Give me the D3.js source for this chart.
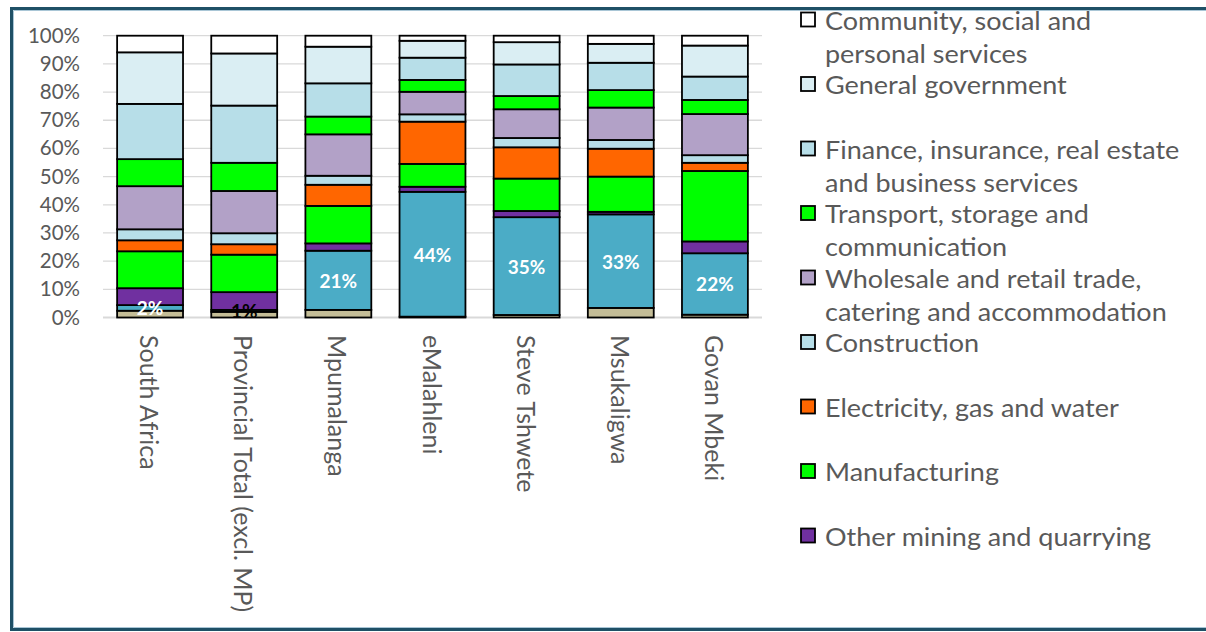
<!DOCTYPE html>
<html><head><meta charset="utf-8">
<script src="https://cdn.jsdelivr.net/npm/d3@7"></script>
<style>
html,body{margin:0;padding:0;background:#fff;}
svg{display:block;}
text{font-family:Lato,"Open Sans",sans-serif;}
</style></head>
<body>
<svg id="chart" width="1206" height="632"></svg>
<script>
const categories = ["South Africa","Provincial Total (excl. MP)","Mpumalanga","eMalahleni","Steve Tshwete","Msukaligwa","Govan Mbeki"];
const seriesNames = ["Agriculture","Coal mining","Other mining and quarrying","Manufacturing","Electricity, gas and water","Construction","Wholesale and retail trade, catering and accommodation","Transport, storage and communication","Finance, insurance, real estate and business services","General government","Community, social and personal services"];
const agriculture   = [2.4, 2.0, 2.7, 0.3, 0.9, 3.4, 1.0];
const coalMining    = [2.0, 0.7, 21.0, 44.3, 34.7, 33.2, 21.8];
const otherMining   = [6.0, 6.3, 2.6, 1.8, 2.2, 0.9, 4.2];
const manufacturing = [13.1, 13.3, 13.3, 8.1, 11.5, 12.5, 25.0];
const electricity   = [3.9, 3.7, 7.5, 15.0, 11.1, 9.9, 2.9];
const construction  = [3.9, 3.9, 3.2, 2.6, 3.3, 3.1, 2.7];
const wholesale     = [15.3, 15.0, 14.7, 8.0, 10.2, 11.5, 14.6];
const transport     = [9.6, 10.0, 6.3, 4.2, 4.7, 6.2, 5.0];
const finance       = [19.6, 20.3, 11.8, 7.9, 11.2, 9.7, 8.3];
const government    = [18.3, 18.5, 13.0, 6.0, 7.9, 6.7, 11.0];
const community     = [5.9, 6.3, 3.9, 1.8, 2.3, 2.9, 3.5];
const seriesValues = [agriculture, coalMining, otherMining, manufacturing, electricity, construction, wholesale, transport, finance, government, community];
const seriesColors = ["#C4BD97","#4BACC6","#7030A0","#00FF00","#FF6600","#B7DEE8","#B2A1C7","#00FF00","#B7DEE8","#DAEEF3","#FFFFFF"];
const labelColors = ["#FFFFFF","#000000","#FFFFFF","#FFFFFF","#FFFFFF","#FFFFFF","#FFFFFF"];
const yTicks = [0,0.1,0.2,0.3,0.4,0.5,0.6,0.7,0.8,0.9,1.0];
const legendSeries = [10,9,8,7,6,5,4,3,2];
const legendLines = [["Community, social and","personal services"],["General government"],["Finance, insurance, real estate","and business services"],["Transport, storage and","communication"],["Wholesale and retail trade,","catering and accommodation"],["Construction"],["Electricity, gas and water"],["Manufacturing"],["Other mining and quarrying"]];

const svg = d3.select("#chart");
// frame
svg.append("path").attr("d","M1206,8.5 H11.5 V629.5 H1206").attr("fill","none").attr("stroke","#1F5066").attr("stroke-width",3);
svg.append("path").attr("d","M1206,10.5 H13.5 V627.5 H1206").attr("fill","none").attr("stroke","#A9C6D6").attr("stroke-width",1);

const x = d3.scaleBand().domain(categories).range([103, 762]).paddingInner(0.3).paddingOuter(0.15);
const y = d3.scaleLinear().domain([0,1]).range([317.5, 35.7]);

// gridlines
svg.append("g").selectAll("line").data(yTicks).join("line")
  .attr("x1",103).attr("x2",762).attr("y1",d=>y(d)).attr("y2",d=>y(d))
  .attr("stroke","#D9D9D9").attr("stroke-width",d=>d===0?2:1.3);

// y axis
const yAxis = d3.axisLeft(y).tickValues(yTicks).tickFormat(d3.format(".0%")).tickSize(0).tickPadding(0);
const ya = svg.append("g").attr("transform","translate(80,0)").call(yAxis);
ya.select(".domain").remove();
ya.selectAll("text").attr("font-size",20.5).attr("fill","#595959").style("font-family","Lato");

// stacked data
const rows = categories.map((c,i)=>{ const o={cat:c}; seriesNames.forEach((s,j)=>o[s]=seriesValues[j][i]/100); return o; });
const stacked = d3.stack().keys(seriesNames)(rows);

const gBars = svg.append("g");
stacked.forEach((layer,j)=>{
  gBars.append("g").attr("fill",seriesColors[j]).selectAll("rect").data(layer).join("rect")
    .attr("x",d=>x(d.data.cat)).attr("width",x.bandwidth())
    .attr("y",d=>y(d[1])).attr("height",d=>y(d[0])-y(d[1]))
    .attr("stroke","#000").attr("stroke-width",1.8);
});

// labels on coal mining
const coal = stacked[1];
svg.append("g").selectAll("text").data(coal).join("text")
  .attr("x",d=>x(d.data.cat)+x.bandwidth()/2)
  .attr("y",d=>y((d[0]+d[1])/2))
  .attr("text-anchor","middle").attr("dominant-baseline","central")
  .attr("font-size",19).attr("font-weight","bold")
  .attr("fill",(d,i)=>labelColors[i])
  .text(d=>d3.format(".0%")(d[1]-d[0]));

// x axis labels rotated
const xAxis = d3.axisBottom(x).tickSize(0).tickPadding(0);
const xa = svg.append("g").attr("transform","translate(0,335)").call(xAxis);
xa.select(".domain").remove();
xa.selectAll("text").attr("font-size",25).attr("fill","#595959").style("font-family","Lato")
  .attr("transform","rotate(90)").attr("text-anchor","start").attr("dominant-baseline","central")
  .attr("x",0).attr("y",0).attr("dy",null);

// legend
const lg = svg.append("g");
legendSeries.forEach((si,k)=>{
  const cy = 20 + k*64.5;
  lg.append("rect").attr("x",801).attr("y",cy-7.5).attr("width",14).attr("height",14)
    .attr("fill",seriesColors[si]).attr("stroke","#000").attr("stroke-width",1.8);
  legendLines[k].forEach((t,li)=>{
    lg.append("text").attr("transform",`translate(825,${cy+li*33}) scale(1.08,1)`)
      .attr("dominant-baseline","central")
      .attr("font-size",25).attr("fill","#595959").text(t);
  });
});
</script>
</body></html>
